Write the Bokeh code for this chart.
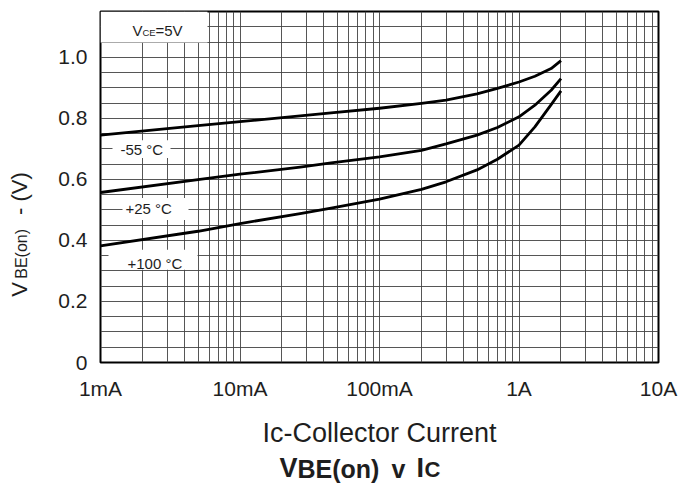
import math
from bokeh.plotting import figure
from bokeh.layouts import row, column
from bokeh.models import Range1d, FixedTicker, Label, BoxAnnotation
from bokeh.embed import file_html
from bokeh.resources import INLINE

# ---- data ----
current_a = [0.001, 0.005, 0.01, 0.027, 0.045, 0.1, 0.2, 0.3, 0.5, 0.7, 1.0, 1.3, 1.7, 2.0]
vbe_m55 = [0.745, 0.776, 0.789, 0.808, 0.818, 0.833, 0.849, 0.860, 0.880, 0.898, 0.919, 0.938, 0.963, 0.989]
vbe_p25 = [0.557, 0.599, 0.617, 0.640, 0.654, 0.674, 0.695, 0.716, 0.745, 0.770, 0.805, 0.843, 0.892, 0.930]
vbe_p100 = [0.382, 0.430, 0.455, 0.488, 0.506, 0.535, 0.567, 0.592, 0.631, 0.666, 0.712, 0.772, 0.845, 0.890]
series_names = ["-55 °C", "+25 °C", "+100 °C"]

x_tick_values = [0.001, 0.01, 0.1, 1, 10]
x_tick_labels = ["1mA", "10mA", "100mA", "1A", "10A"]
y_tick_values = [0, 0.2, 0.4, 0.6, 0.8, 1.0]
y_tick_labels = ["0", "0.2", "0.4", "0.6", "0.8", "1.0"]

X_MIN, X_MAX = 0.001, 10
Y_MIN, Y_MAX = 0.0, 1.15

FONT = "Liberation Sans"
INK = "#1e1e1e"
MID = 0.35   # distance from baseline to the "middle" anchor, in font sizes

TOTAL_W, TOTAL_H = 679, 486
YL_W = 40                      # strip for the rotated y label
TITLE_H = 36                   # strip for the title
W, H = TOTAL_W - YL_W, TOTAL_H - TITLE_H
FRAME_L, FRAME_R, FRAME_T, FRAME_B = 100, 658, 11, 363   # picture pixels
BL, BR, BT, BB = FRAME_L - YL_W, TOTAL_W - FRAME_R, FRAME_T, H - FRAME_B
frame_w = FRAME_R - FRAME_L
frame_h = FRAME_B - FRAME_T

p = figure(width=W, height=H, x_axis_type="log",
           x_range=Range1d(X_MIN, X_MAX), y_range=Range1d(Y_MIN, Y_MAX),
           output_backend="svg", toolbar_location=None,
           min_border_left=BL, min_border_right=BR,
           min_border_top=BT, min_border_bottom=BB)
p.background_fill_color = "white"
p.border_fill_color = "white"
p.outline_line_color = "black"
p.outline_line_width = 2

# helpers to place annotations by picture pixel
def px_x(xp):
    return 10 ** (math.log10(X_MIN) + (xp - FRAME_L) / frame_w * (math.log10(X_MAX) - math.log10(X_MIN)))

def px_y(yp):
    return Y_MIN + (FRAME_B - yp) / frame_h * (Y_MAX - Y_MIN)

# grids
grid_x = [m * 10 ** e for e in range(-3, 1) for m in range(1, 10)] + [10]
grid_y = [round(0.05 * i, 2) for i in range(0, 24)]
p.xgrid.ticker = FixedTicker(ticks=grid_x)
p.ygrid.ticker = FixedTicker(ticks=grid_y)
for g in (p.xgrid, p.ygrid):
    g.grid_line_color = "#444444"
    g.grid_line_width = 1
    g.grid_line_alpha = 0.9

# axes
p.xaxis.ticker = FixedTicker(ticks=x_tick_values)
p.xaxis.major_label_overrides = {v: l for v, l in zip(x_tick_values, x_tick_labels)}
p.yaxis.ticker = FixedTicker(ticks=y_tick_values)
p.yaxis.major_label_overrides = {v: l for v, l in zip(y_tick_values, y_tick_labels)}
for ax in (p.xaxis, p.yaxis):
    ax.axis_line_color = None
    ax.major_tick_line_color = None
    ax.minor_tick_line_color = None
    ax.major_tick_in = 0
    ax.major_tick_out = 0
    ax.minor_tick_in = 0
    ax.minor_tick_out = 0
    ax.major_label_text_font = FONT
    ax.major_label_text_font_size = "21px"
    ax.major_label_text_color = INK
p.xaxis.major_label_standoff = 14
p.yaxis.major_label_standoff = 13
p.xaxis.axis_label = "Ic-Collector Current"
p.xaxis.axis_label_text_font = FONT
p.xaxis.axis_label_text_font_size = "27px"
p.xaxis.axis_label_text_font_style = "normal"
p.xaxis.axis_label_text_color = INK
p.xaxis.axis_label_standoff = 15

# white boxes behind in-plot labels
def white_box(x0, x1, y0, y1):
    p.add_layout(BoxAnnotation(left=px_x(x0), right=px_x(x1), top=px_y(y0), bottom=px_y(y1),
                               fill_color="white", fill_alpha=1.0, line_color=None, level="underlay"))

white_box(100, 207, 11, 42)
white_box(112, 170, 140, 158)
white_box(122, 188, 198, 220)
white_box(108, 197, 250, 270)

# curves
for ys in (vbe_m55, vbe_p25, vbe_p100):
    p.line(current_a, ys, line_color="black", line_width=2.8, line_join="round")

def label(fig, text, x, y, size, style="normal", angle=0.0):
    fig.add_layout(Label(x=x, y=y, text=text, text_font=FONT,
                         text_font_size=f"{size}px", text_font_style=style, text_color=INK,
                         text_align="left", text_baseline="middle", angle=angle))

# temperature labels (inside the plot frame)
label(p, series_names[0], px_x(120), px_y(149), 15)
label(p, series_names[1], px_x(125), px_y(209), 15)
label(p, series_names[2], px_x(127), px_y(264), 15)

# VCE = 5V  (baseline at picture y = 35)
label(p, "V", px_x(132), px_y(35 - MID * 15), 15)
label(p, "CE", px_x(142), px_y(35 - MID * 9.5), 9.5)
label(p, "=5V", px_x(155), px_y(35 - MID * 15), 15)

def blank_fig(w, h, bt=0, bb=0):
    f = figure(width=w, height=h, x_range=Range1d(0, w), y_range=Range1d(bb, h - bt),
               x_axis_location=None, y_axis_location=None,
               output_backend="svg", toolbar_location=None,
               min_border_left=0, min_border_right=0, min_border_top=bt, min_border_bottom=bb)
    f.outline_line_color = None
    f.grid.grid_line_color = None
    f.background_fill_color = "white"
    f.border_fill_color = "white"
    return f

# y-axis label strip (rotated text; data coords = strip pixels, y upward)
ylab = blank_fig(YL_W, H, bt=BT, bb=BB)
up = math.pi / 2
base_x = 27
label(ylab, "V", base_x - MID * 22, H - 297, 22, angle=up)
label(ylab, "BE(on)", base_x - MID * 16, H - 279, 16, angle=up)
label(ylab, "- (V)", base_x - MID * 22, H - 215, 22, angle=up)

# title strip (baseline at picture y = 477)
tfig = blank_fig(TOTAL_W, TITLE_H)
def ty(size):
    return TOTAL_H - (477 - MID * size)
label(tfig, "V", 279, ty(27), 27, style="bold")
label(tfig, "BE(on)", 297, ty(25), 25, style="bold")
label(tfig, "v", 391, ty(25), 25, style="bold")
label(tfig, "I", 416, ty(27), 27, style="bold")
label(tfig, "C", 424, ty(22), 22, style="bold")

layout = column(row(ylab, p, spacing=0), tfig, spacing=0)
open("out.html", "w").write(file_html(layout, INLINE))
